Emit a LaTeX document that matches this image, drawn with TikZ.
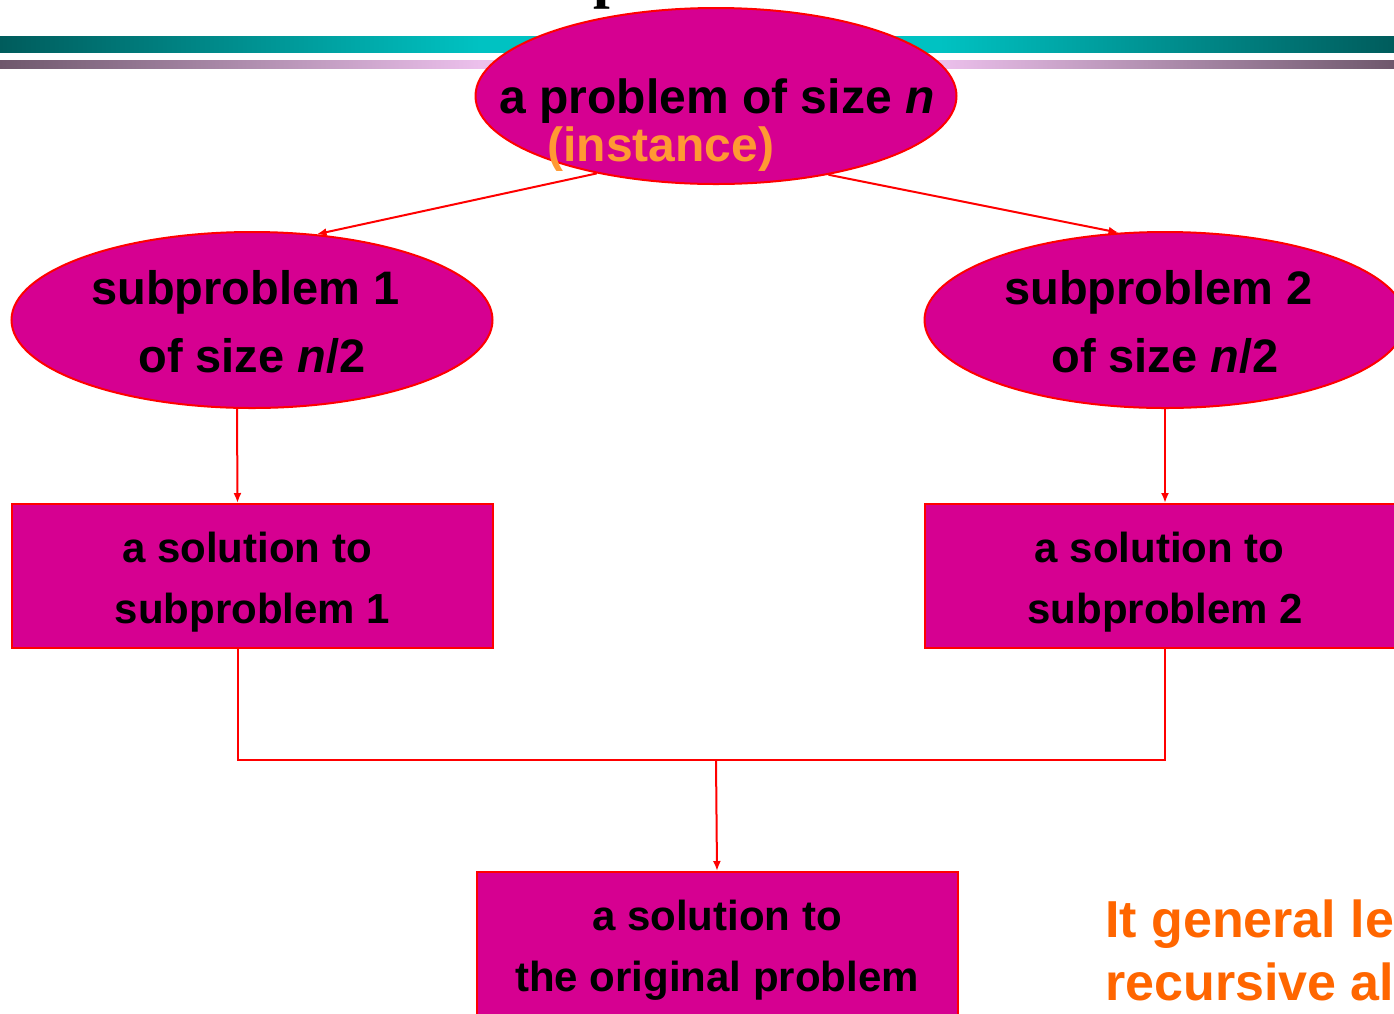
\documentclass[tikz,border=0pt]{standalone}
\usepackage{fontspec}
\setmainfont{Liberation Sans}
\newfontfamily\serifbold{Liberation Serif}
\usetikzlibrary{shapes.geometric,arrows.meta}
\definecolor{mag}{RGB}{214,0,145}
\definecolor{instorange}{RGB}{255,153,51}
\definecolor{noteorange}{RGB}{255,102,0}
\definecolor{tealdark}{RGB}{0,92,92}
\definecolor{tealbright}{RGB}{0,194,194}
\definecolor{plumdark}{RGB}{110,88,108}
\definecolor{plumlight}{RGB}{236,192,236}
\pgfdeclarehorizontalshading{tealbar}{100bp}{color(0bp)=(tealdark); color(25bp)=(tealdark); color(42.2bp)=(tealbright); color(58.7bp)=(tealbright); color(75bp)=(tealdark); color(100bp)=(tealdark)}
\pgfdeclarehorizontalshading{plumbar}{100bp}{color(0bp)=(plumdark); color(25bp)=(plumdark); color(42.2bp)=(plumlight); color(58.7bp)=(plumlight); color(75bp)=(plumdark); color(100bp)=(plumdark)}
\tikzset{
  ell/.style={ellipse, draw=red, line width=2pt, fill=mag, minimum width=481pt, minimum height=176pt, inner sep=0pt},
  solbox/.style={rectangle, draw=red, line width=2pt, fill=mag, minimum width=481pt, minimum height=144pt, inner sep=0pt},
  elltxt/.style={inner sep=0pt, align=center, font=\bfseries\fontsize{47}{68}\selectfont},
  boxtxt/.style={inner sep=0pt, align=center, font=\bfseries\fontsize{42}{61}\selectfont},
  conn/.style={draw=red, line width=2pt},
  arr/.style={conn, -{Latex[length=10pt,width=8pt]}}
}
\begin{document}
\begin{tikzpicture}[x=1pt,y=-1pt]
\fill[white] (0,0) rectangle (1394,1013);
\useasboundingbox (0,0) rectangle (1394,1013);
% header bars
\shade[shading=tealbar] (0,36) rectangle (1394,52);
\shade[shading=plumbar] (0,60) rectangle (1394,68);
% cut-off title glyph
\node[anchor=base, inner sep=0pt, font=\serifbold\bfseries\fontsize{60}{60}\selectfont] (glyph) at (610,-4) {p};
% nodes
\node[ell] (top) at (716,96) {};
\node[inner sep=0pt, font=\bfseries\fontsize{48}{48}\selectfont] (toptxt) at (717,101) {a problem of size \textit{n}};
\node[inner sep=0pt, text=instorange, font=\bfseries\fontsize{48}{48}\selectfont] (inst) at (661,149) {(instance)};
\node[ell] (lell) at (252,320) {};
\node[elltxt] (lellt) at (252,322) {subproblem 1\kern13pt\\of size \textit{n}/2};
\node[ell] (rell) at (1165,320) {};
\node[elltxt] (rellt) at (1165,322) {subproblem 2\kern13pt\\of size \textit{n}/2};
\node[solbox] (lbox) at (252.5,576) {};
\node[boxtxt] (lboxt) at (252.5,582) {a solution to\kern11pt\\subproblem 1};
\node[solbox] (rbox) at (1165,576) {};
\node[boxtxt] (rboxt) at (1165,582) {a solution to\kern11pt\\subproblem 2};
\node[solbox] (bbox) at (717,944) {};
\node[boxtxt] (bboxt) at (717,950) {a solution to\\the original problem};
\coordinate (j) at (716,760);
% connectors
\draw[arr] (top.213) -- (lell.53);
\draw[arr] (top.325) -- (rell.118);
\draw[arr] ([xshift=-15pt]lell.south) -- ([xshift=-15pt]lbox.north);
\draw[arr] (rell.south) -- (rbox.north);
\draw[conn] ([xshift=-15pt]lbox.south) -- ([xshift=-15pt]lbox.south |- j) -- (rbox.south |- j) -- (rbox.south);
\draw[arr] (j) -- (bbox.north);
% note
\node[anchor=base west, inner sep=0pt, text=noteorange, font=\bfseries\fontsize{52}{52}\selectfont] (note1) at (1105,937) {It general le};
\node[anchor=base west, inner sep=0pt, text=noteorange, font=\bfseries\fontsize{52}{52}\selectfont] (note2) at (1105,1000) {recursive al};
\end{tikzpicture}
\end{document}
